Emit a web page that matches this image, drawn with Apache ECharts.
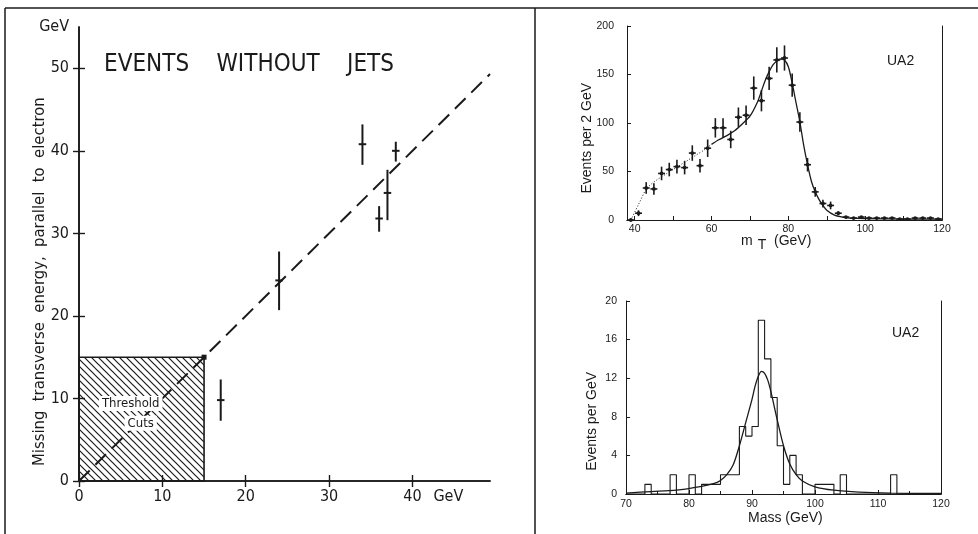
<!DOCTYPE html>
<html>
<head>
<meta charset="utf-8">
<script src="https://cdn.jsdelivr.net/npm/echarts@6/dist/echarts.min.js"></script>
<style>
  html, body { margin: 0; padding: 0; background: #fff; }
  #chart { width: 978px; height: 534px; }
</style>
</head>
<body>
<div id="chart"></div>
<script>
  // left panel: events without jets
  var jetX = [17, 24, 34, 36, 37, 38]
  var jetY = [9.8, 24.3, 40.8, 31.8, 34.9, 40.0]
  var jetLo = [7.3, 20.7, 38.3, 30.2, 31.6, 38.7]
  var jetHi = [12.3, 27.8, 43.2, 33.3, 37.7, 41.1]
  var cutCorner = [15, 15]
  var diagX = [0, 49.3]
  var diagY = [0, 49.3]
  var leftXLabels = [0, 10, 20, 30, 40]
  var leftYLabels = [0, 10, 20, 30, 40, 50]

  // top right: transverse mass, 2 GeV bins
  var mtX = [39, 41, 43, 45, 47, 49, 51, 53, 55, 57, 59, 61, 63, 65, 67, 69, 71, 73, 75, 77, 79,
    81, 83, 85, 87, 89, 91, 93, 95, 97, 99, 101, 103, 105, 107, 109, 111, 113, 115, 117, 119]
  var mtY = [0, 7, 33, 32, 48, 52, 55, 54, 69, 56, 74, 95, 95, 83, 106, 108, 136, 123, 146, 165, 167,
    139, 101, 57, 29, 17, 15, 7, 3, 2, 3, 2, 2, 2, 2, 1, 1, 2, 2, 2, 1]
  var mtErr = [0, 3, 6, 6, 7, 7, 7, 7, 8, 7, 9, 10, 10, 9, 10, 10, 12, 11, 12, 13, 13,
    12, 10, 7, 5, 4, 4, 2, 1, 1, 1, 1, 1, 1, 1, 1, 1, 1, 1, 1, 1]
  var mtDotX = [39, 41, 43, 44, 46, 48, 50, 52, 54, 56, 58, 60]
  var mtDotY = [0, 16, 32, 36, 42, 47, 52, 57, 62, 67, 72, 78]
  var mtFitX = [60, 62, 64, 66, 68, 70, 72, 73, 74, 75, 76, 77, 78, 79, 80, 81, 82, 83, 84, 85,
    86, 87, 88, 89, 90, 92, 94, 96, 100, 110, 120]
  var mtFitY = [78, 83, 87, 92, 99, 107, 122, 133, 144, 153, 160, 164, 166, 165, 158, 141, 121, 101, 77, 57,
    40, 29, 21, 15, 10, 5, 3, 2, 1.4, 1, 1]
  var mtLabels = [40, 60, 80, 100, 120]
  var mtTicks = [40, 50, 60, 70, 80, 90, 100, 110, 120]

  // bottom right: mass histogram, 1 GeV bins from 70
  var massLo = 70
  var massCounts = [0, 0, 0, 1, 0, 0, 0, 2, 0, 0, 2, 0, 1, 1, 1, 2, 2, 2, 7, 6,
    7, 18, 14, 10, 5, 1, 4, 2, 0, 0, 1, 1, 1, 0, 2, 0, 0, 0, 0, 0,
    0, 0, 2, 0, 0, 0, 0, 0, 0, 0]
  var massFitX = [70, 74, 78, 82, 84, 85, 86, 87, 88, 89, 90, 90.5, 91, 91.5, 92, 92.5, 93, 94, 95,
    96, 97, 98, 100, 103, 107, 112, 120]
  var massFitY = [0.1, 0.25, 0.4, 0.8, 1.1, 1.4, 2.0, 3.0, 5.0, 7.4, 9.8, 11.2, 12.2, 12.7, 12.5, 11.8, 10.6, 7.7, 5.0,
    3.1, 2.0, 1.35, 0.75, 0.4, 0.2, 0.1, 0.05]

  var ink = '#1a1a1a'
  var oldFont = "'Liberation Sans Narrow', 'DejaVu Sans Condensed', 'DejaVu Sans', sans-serif"
  var newFont = "'Liberation Sans', Arial, sans-serif"

  function zip(a, b) {
    return a.map(function (v, i) { return [v, b[i]] })
  }

  function hatch() {
    var c = document.createElement('canvas')
    c.width = 7
    c.height = 7
    var g = c.getContext('2d')
    g.strokeStyle = ink
    g.lineWidth = 1.2
    g.beginPath()
    g.moveTo(-1, -1); g.lineTo(8, 8)
    g.moveTo(-1, 6); g.lineTo(1, 8)
    g.moveTo(6, -1); g.lineTo(8, 1)
    g.stroke()
    return c
  }

  /* cross shaped error bar, optional dot */
  function crossBar(halfW, width, dot) {
    return function (params, api) {
      var x = api.value(0)
      var p = api.coord([x, api.value(1)])
      var lo = api.coord([x, api.value(2)])
      var hi = api.coord([x, api.value(3)])
      var l = api.coord([x - halfW, api.value(1)])
      var r = api.coord([x + halfW, api.value(1)])
      var st = { stroke: ink, lineWidth: width }
      var kids = [
        { type: 'line', shape: { x1: p[0], y1: lo[1], x2: p[0], y2: hi[1] }, style: st },
        { type: 'line', shape: { x1: l[0], y1: p[1], x2: r[0], y2: p[1] }, style: st }
      ]
      if (dot) kids.push({ type: 'circle', shape: { cx: p[0], cy: p[1], r: dot }, style: { fill: ink } })
      return { type: 'group', children: kids }
    }
  }

  function stepData() {
    var out = []
    massCounts.forEach(function (c, i) { out.push([massLo + i, c]) })
    out.push([massLo + massCounts.length, 0])
    return out
  }

  var oldLabel = { fontFamily: oldFont, fontSize: 16, color: ink }
  var newLabel = { fontFamily: newFont, fontSize: 10.5, color: ink }

  function leftAxis(pos, gi, isX, show) {
    var a = {
      type: 'value', gridIndex: gi, position: pos, min: 0, max: isX ? 49.3 : 55,
      axisLine: { show: true, lineStyle: { color: ink, width: 1.6 } },
      axisTick: { show: true, inside: true, length: 6, lineStyle: { color: ink, width: 1.4 },
        customValues: isX ? leftXLabels : leftYLabels },
      splitLine: { show: false },
      axisLabel: { show: show }
    }
    if (show) {
      a.axisLabel = Object.assign({
        show: true, margin: isX ? 8 : 10,
        customValues: isX ? leftXLabels.concat([44.3]) : leftYLabels.concat([55]),
        formatter: function (v) { return (isX ? v > 41 : v > 51) ? 'GeV' : v }
      }, oldLabel)
    }
    return a
  }

  function rightAxis(pos, gi, range, opt, show) {
    var a = {
      type: 'value', gridIndex: gi, position: pos, min: range[0], max: range[1],
      axisLine: { show: true, lineStyle: { color: ink, width: 1 } },
      axisTick: { show: show, inside: true, length: 4, lineStyle: { color: ink } },
      splitLine: { show: false },
      axisLabel: show ? Object.assign({ margin: 5 }, newLabel) : { show: false }
    }
    return Object.assign(a, opt || {})
  }

  var chart = echarts.init(document.getElementById('chart'))
  chart.setOption({
    animation: false,
    backgroundColor: '#fff',
    grid: [
      { left: 79, top: 27, width: 411, height: 454 },
      { left: 627, top: 26, width: 315, height: 194 },
      { left: 626, top: 301, width: 315, height: 193 }
    ],
    title: {
      text: 'EVENTS    WITHOUT    JETS', left: 99, top: 48,
      textStyle: { fontFamily: oldFont, fontSize: 24, fontWeight: 'normal', color: ink }
    },
    graphic: [
      { type: 'line', shape: { x1: 5, y1: 8, x2: 978, y2: 8 }, style: { stroke: ink, lineWidth: 1.5 } },
      { type: 'line', shape: { x1: 5, y1: 8, x2: 5, y2: 534 }, style: { stroke: ink, lineWidth: 1.5 } },
      { type: 'line', shape: { x1: 535, y1: 8, x2: 535, y2: 534 }, style: { stroke: ink, lineWidth: 1.5 } },
      {
        type: 'text', x: 31, y: 466, rotation: Math.PI / 2,
        style: { text: 'Missing  transverse  energy,  parallel  to  electron', font: '16.5px ' + oldFont, fill: ink }
      },
      {
        type: 'text', left: 580, top: 83, rotation: Math.PI / 2,
        style: { text: 'Events per 2 GeV', font: '14px ' + newFont, fill: ink }
      },
      {
        type: 'text', left: 585, top: 372, rotation: Math.PI / 2,
        style: { text: 'Events per GeV', font: '14px ' + newFont, fill: ink }
      },
      {
        type: 'text', left: 741, top: 234,
        style: {
          text: '{m|m}{t|T}{m|  (GeV)}',
          rich: { m: { font: '14px ' + newFont, fill: ink }, t: { font: '14px ' + newFont, fill: ink, padding: [9, 0, 0, 5] } }
        }
      },
      { type: 'text', left: 748, top: 511, style: { text: 'Mass (GeV)', font: '14px ' + newFont, fill: ink } },
      { type: 'text', left: 887, top: 54, style: { text: 'UA2', font: '14px ' + newFont, fill: ink } },
      { type: 'text', left: 892, top: 326, style: { text: 'UA2', font: '14px ' + newFont, fill: ink } }
    ],
    xAxis: [
      leftAxis('bottom', 0, true, true),
      leftAxis('top', 0, true, false),
      rightAxis('bottom', 1, [38, 120], {
        axisTick: { show: true, inside: true, length: 4, lineStyle: { color: ink }, customValues: mtTicks },
        axisLabel: Object.assign({ margin: 4, customValues: mtLabels }, newLabel)
      }, true),
      rightAxis('top', 1, [38, 120], null, false),
      rightAxis('bottom', 2, [70, 120], {
        interval: 10,
        minorTick: { show: true, splitNumber: 2, length: 3, lineStyle: { color: ink } }
      }, true),
      rightAxis('top', 2, [70, 120], null, false)
    ],
    yAxis: [
      leftAxis('left', 0, false, true),
      leftAxis('right', 0, false, false),
      rightAxis('left', 1, [0, 200], {
        interval: 50, axisLabel: Object.assign({ margin: 13 }, newLabel)
      }, true),
      rightAxis('right', 1, [0, 200], null, false),
      rightAxis('left', 2, [0, 20], {
        interval: 4, axisLabel: Object.assign({ margin: 9 }, newLabel)
      }, true),
      rightAxis('right', 2, [0, 20], null, false)
    ],
    series: [
      {
        type: 'line', xAxisIndex: 0, yAxisIndex: 0, data: zip(diagX, diagY),
        symbol: 'none', lineStyle: { color: ink, width: 2, type: [15, 8] }, z: 3,
        markArea: {
          silent: true,
          itemStyle: { color: { image: hatch(), repeat: 'repeat' }, borderColor: ink, borderWidth: 1.6 },
          data: [[{ coord: [0, 0] }, { coord: cutCorner }]]
        }
      },
      {
        type: 'scatter', xAxisIndex: 0, yAxisIndex: 0, data: [cutCorner],
        symbol: 'rect', symbolSize: 5, itemStyle: { color: ink, opacity: 1 }, z: 4
      },
      {
        type: 'scatter', xAxisIndex: 0, yAxisIndex: 0, symbolSize: 0, z: 5,
        itemStyle: { opacity: 1 },
        data: [
          { value: [6.2, 9.4], label: { formatter: 'Threshold' } },
          { value: [7.4, 7.0], label: { formatter: 'Cuts' } }
        ],
        label: {
          show: true, position: 'inside', fontFamily: oldFont, fontSize: 13, color: ink,
          backgroundColor: '#fff', padding: [1, 3]
        }
      },
      {
        type: 'custom', xAxisIndex: 0, yAxisIndex: 0, z: 6,
        renderItem: crossBar(0.45, 2),
        data: jetX.map(function (x, i) { return [x, jetY[i], jetLo[i], jetHi[i]] })
      },
      {
        type: 'line', xAxisIndex: 2, yAxisIndex: 2, data: zip(mtDotX, mtDotY), symbol: 'none',
        smooth: 0.3, lineStyle: { color: ink, width: 1, type: [1, 2] }
      },
      {
        type: 'line', xAxisIndex: 2, yAxisIndex: 2, data: zip(mtFitX, mtFitY), symbol: 'none',
        smooth: 0.3, lineStyle: { color: ink, width: 1.3 }
      },
      {
        type: 'custom', xAxisIndex: 2, yAxisIndex: 2, z: 6,
        renderItem: crossBar(0.9, 1.6, 1.9),
        data: mtX.map(function (x, i) { return [x, mtY[i], mtY[i] - mtErr[i], mtY[i] + mtErr[i]] })
      },
      {
        type: 'line', xAxisIndex: 4, yAxisIndex: 4, data: stepData(), step: 'end', symbol: 'none',
        lineStyle: { color: ink, width: 1.1 }
      },
      {
        type: 'line', xAxisIndex: 4, yAxisIndex: 4, data: zip(massFitX, massFitY), symbol: 'none',
        smooth: 0.3, lineStyle: { color: ink, width: 1.3 }
      }
    ]
  })
</script>
</body>
</html>
